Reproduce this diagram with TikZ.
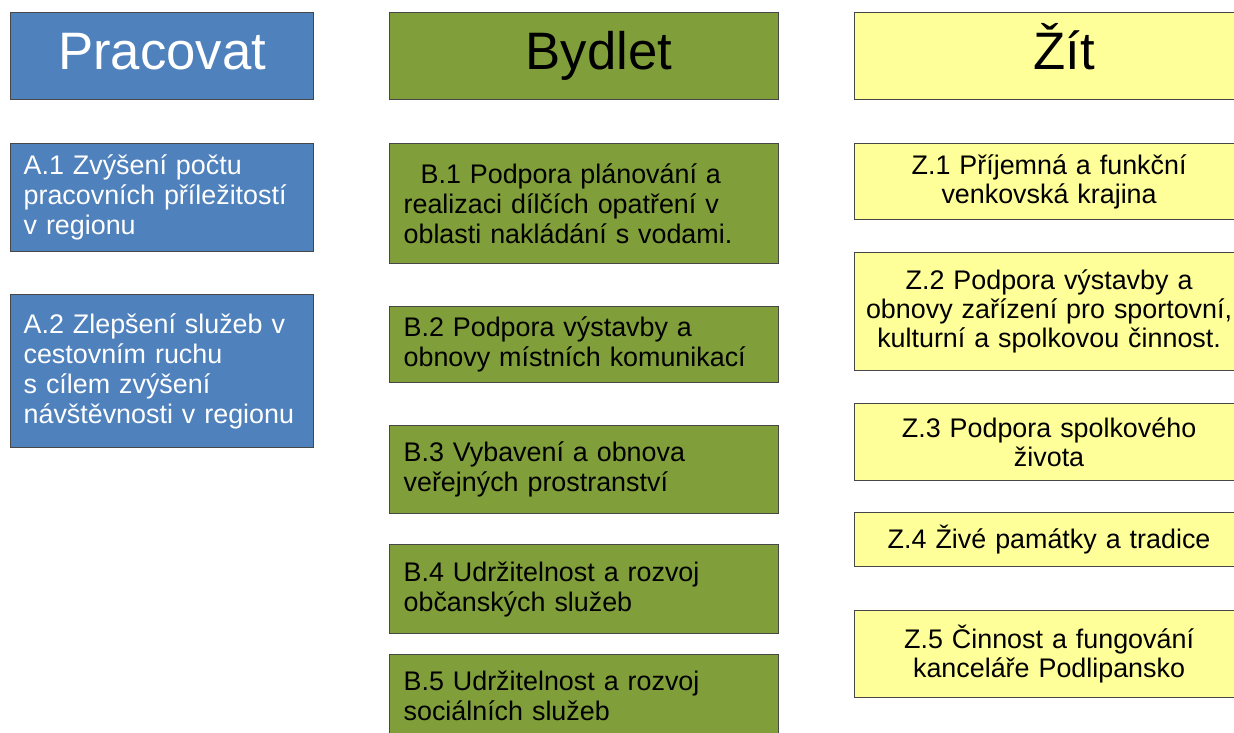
\documentclass[tikz,border=0pt]{standalone}
\usepackage{fontspec}
\setmainfont{Liberation Sans}
\usepackage{tikz}
\usetikzlibrary{positioning}
\definecolor{cwork}{RGB}{79,129,189}
\definecolor{chome}{RGB}{128,158,58}
\definecolor{clive}{RGB}{255,255,153}
\tikzset{
  box/.style={rectangle,draw=black!72,line width=0.7pt,anchor=north west,
    inner ysep=2pt,font=\fontsize{15.3pt}{17pt}\selectfont},
  head/.style={box,inner sep=0pt,text height=0.77cm,text depth=0.22cm,
    font=\fontsize{30pt}{34pt}\selectfont},
  % column colours: work in blue, housing in green, living in yellow
  work/.style={fill=cwork,text=white,minimum width=6.06cm},
  home/.style={fill=chome,text=black,minimum width=7.78cm},
  live/.style={fill=clive,text=black,minimum width=7.78cm},
  worktxt/.style={work,inner xsep=0.26cm,text width=5.54cm,align=left},
  hometxt/.style={home,inner xsep=0.28cm,text width=7.22cm,align=left},
  livetxt/.style={live,inner xsep=0.08cm,text width=7.62cm,align=center,
    font=\fontsize{15.3pt}{16.5pt}\selectfont}
}
\begin{document}
\begin{tikzpicture}[x=0.02cm,y=-0.02cm]
  \useasboundingbox (0,0) rectangle (1234,733);
  \clip (0,0) rectangle (1234,733);
  % column heads
  \node[head,work,minimum height=1.74cm] (pracovat) at (10,12) {Pracovat};
  \node[head,home,minimum height=1.74cm] (bydlet) at (389,12) {\hspace*{0.6cm}Bydlet};
  \node[head,live,minimum height=1.74cm] (zit) at (854,12) {\hspace*{0.6cm}Žít};
  % Pracovat
  \node[box,worktxt,minimum height=2.16cm] (a1) at (10,143)
    {A.1 Zvýšení počtu\\pracovních příležitostí\\v regionu};
  \node[box,worktxt,minimum height=3.06cm] (a2) at (10,294)
    {A.2 Zlepšení služeb v\\cestovním ruchu\\s cílem zvýšení\\návštěvnosti v regionu};
  % Bydlet
  \node[box,hometxt,minimum height=2.40cm] (b1) at (389,143)
    {\hspace*{0.34cm}B.1 Podpora plánování a\\realizaci dílčích opatření v\\oblasti nakládání s vodami.};
  \node[box,hometxt,minimum height=1.52cm] (b2) at (389,306)
    {B.2 Podpora výstavby a\\obnovy místních komunikací};
  \node[box,hometxt,minimum height=1.76cm] (b3) at (389,425)
    {B.3 Vybavení a obnova\\veřejných prostranství};
  \node[box,hometxt,minimum height=1.78cm] (b4) at (389,544)
    {B.4 Udržitelnost a rozvoj\\občanských služeb};
  \node[box,hometxt,minimum height=1.64cm] (b5) at (389,654)
    {B.5 Udržitelnost a rozvoj\\sociálních služeb};
  % Žít
  \node[box,livetxt,minimum height=1.52cm] (z1) at (854,143)
    {Z.1 Příjemná a funkční\\venkovská krajina};
  \node[box,livetxt,minimum height=2.36cm] (z2) at (854,252)
    {Z.2 Podpora výstavby a\\obnovy zařízení pro sportovní,\\kulturní a spolkovou činnost.};
  \node[box,livetxt,minimum height=1.54cm] (z3) at (854,403)
    {Z.3 Podpora spolkového\\života};
  \node[box,livetxt,minimum height=1.08cm] (z4) at (854,512)
    {Z.4 Živé památky a tradice};
  \node[box,livetxt,minimum height=1.74cm] (z5) at (854,610)
    {Z.5 Činnost a fungování\\kanceláře Podlipansko};
\end{tikzpicture}
\end{document}
